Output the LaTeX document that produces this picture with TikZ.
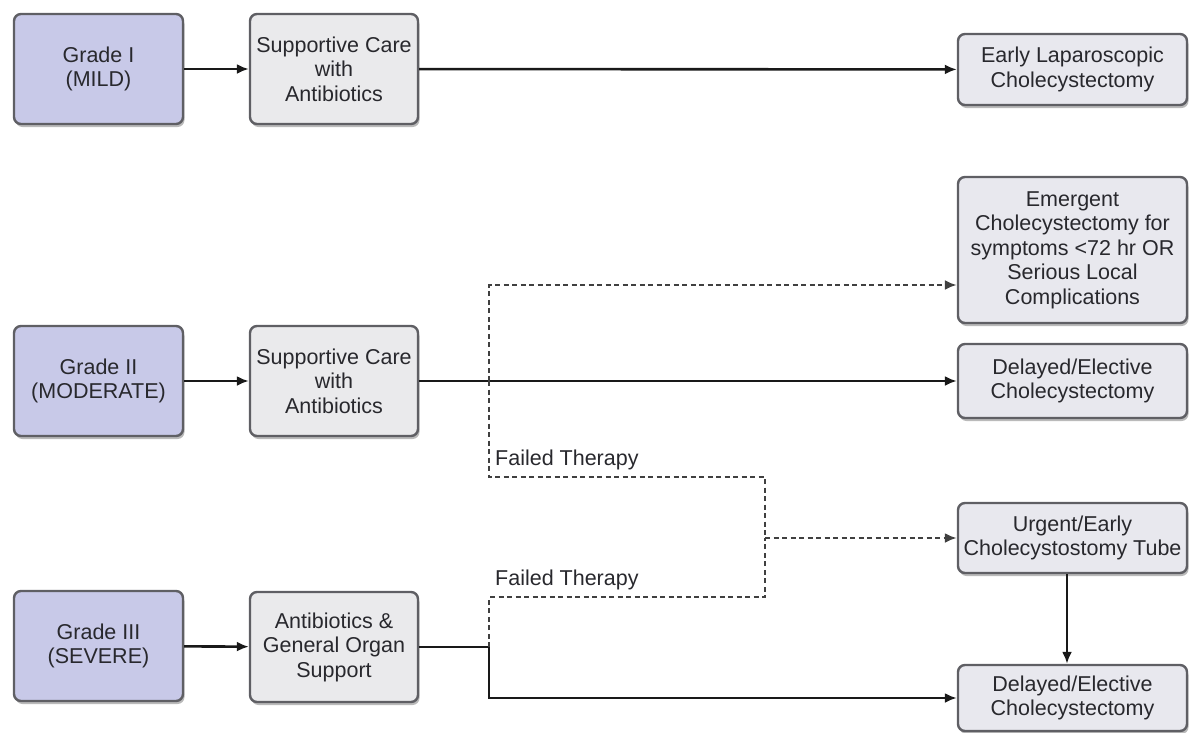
\documentclass[tikz,border=0pt]{standalone}
\usepackage{fontspec}
\setmainfont{Liberation Sans}
\usetikzlibrary{arrows.meta,shadows}
\definecolor{gradefill}{RGB}{200,201,232}
\definecolor{carefill}{RGB}{234,234,236}
\definecolor{outfill}{RGB}{232,232,238}
\definecolor{boxline}{RGB}{95,95,100}
\definecolor{txt}{RGB}{40,40,45}
\tikzset{
  box/.style={draw=boxline, line width=2.4pt, rounded corners=7pt, align=center,
    text=txt, inner sep=1pt,
    font=\fontsize{21.5}{24.5}\selectfont,
    drop shadow={shadow xshift=1.5pt, shadow yshift=-3pt, fill=gray!60, opacity=0.9}},
  gradebox/.style={box, fill=gradefill, minimum width=169pt, minimum height=110pt},
  carebox/.style={box, fill=carefill, minimum width=168pt, minimum height=110pt},
  outbox/.style={box, fill=outfill, minimum width=229pt},
  flow/.style={draw=black!90, line width=2.6pt, -{Latex[length=12pt,width=10pt]}},
  link/.style={draw=black!90, line width=2.6pt},
  failed/.style={draw=black!75, line width=2.6pt, dash pattern=on 5pt off 3.5pt},
  failedarrow/.style={failed, -{Latex[length=12pt,width=10pt]}},
  lbl/.style={text=txt, font=\fontsize{21.5}{24.5}\selectfont, inner sep=0pt}
}
\begin{document}
\begin{tikzpicture}[x=1pt, y=-1pt]
  \useasboundingbox (0,0) rectangle (1189,732);

  % grade boxes
  \node[gradebox] (g1) at (98.5,69) {Grade I\\(MILD)};
  \node[gradebox] (g2) at (98.5,381) {Grade II\\(MODERATE)};
  \node[gradebox] (g3) at (98.5,646) {Grade III\\(SEVERE)};

  % initial management
  \node[carebox] (s1) at (334,69) {Supportive Care\\with\\Antibiotics};
  \node[carebox] (s2) at (334,381) {Supportive Care\\with\\Antibiotics};
  \node[carebox] (s3) at (334,647) {Antibiotics \&\\General Organ\\Support};

  % definitive management
  \node[outbox, minimum height=71pt] (early) at (1072.5,69.5) {Early Laparoscopic\\Cholecystectomy};
  \node[outbox, minimum height=146pt] (emerg) at (1072.5,250) {Emergent\\Cholecystectomy for\\symptoms <72 hr OR\\Serious Local\\Complications};
  \node[outbox, minimum height=74pt] (del1) at (1072.5,381) {Delayed/Elective\\Cholecystectomy};
  \node[outbox, minimum height=70pt] (urg) at (1072.5,538) {Urgent/Early\\Cholecystostomy Tube};
  \node[outbox, minimum height=66pt] (del2) at (1072.5,698) {Delayed/Elective\\Cholecystectomy};

  % junction points
  \coordinate (j2) at (489,381);
  \coordinate (e2) at (489,285);
  \coordinate (f2) at (489,477);
  \coordinate (f2r) at (765,477);
  \coordinate (m) at (765,538);
  \coordinate (j3) at (489,647);
  \coordinate (f3) at (489,597);
  \coordinate (f3r) at (765,597);
  \coordinate (d3) at (489,698);

  % grade I
  \draw[flow] (g1) -- (s1);
  \draw[flow] (s1) -- (early);

  % grade II
  \draw[flow] (g2) -- (s2);
  \draw[flow] (s2.east) -- (del1.west);
  \draw[failedarrow] (j2) -- (e2) -- (e2 -| emerg.west);
  \draw[failed] (j2) -- (f2) -- (f2r) -- (m);
  \node[lbl, anchor=south west] (ft1) at (495,470) {Failed Therapy};

  % grade III
  \draw[flow] (g3) -- (s3);
  \draw[link] (s3.east) -- (j3);
  \draw[flow] (j3) -- (d3) -- (del2.west);
  \draw[failed] (j3) -- (f3) -- (f3r) -- (m);
  \node[lbl, anchor=south west] (ft2) at (495,590) {Failed Therapy};

  % cholecystostomy pathway
  \draw[failedarrow] (m) -- (urg.west);
  \draw[flow] (urg.south -| 1067,0) -- (del2.north -| 1067,0);
\end{tikzpicture}
\end{document}
